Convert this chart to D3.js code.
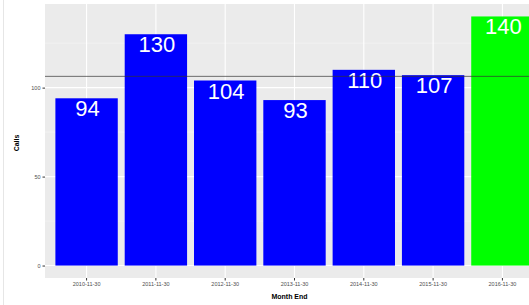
<!DOCTYPE html>
<html>
<head>
<meta charset="utf-8">
<script src="https://cdn.jsdelivr.net/npm/d3@7"></script>
<style>
  body { margin: 0; background: #fff; overflow: hidden; }
  svg { display: block; font-family: "Liberation Sans", Arial, sans-serif; }
</style>
</head>
<body>
<div class="chart"></div>
<script>
const width = 529,
      height = 305;

// data
const months = ["2010-11-30", "2011-11-30", "2012-11-30", "2013-11-30",
                "2014-11-30", "2015-11-30", "2016-11-30"];
const counts = [94, 130, 104, 93, 110, 107, 140];
const highlight = [false, false, false, false, false, false, true];
const yTicks = [0, 50, 100];
const yMinor = [25, 75, 125];

// average of the earlier months, drawn as the reference line
const avg = d3.mean(counts.slice(0, 6));

const panel = {left: 45, top: 4, bottom: 278, right: 544};

const svg = d3.select(".chart")
              .append("svg")
              .attr("width", width)
              .attr("height", height);

// faint frame edge on the left
svg.append("line")
   .attr("x1", 3.5).attr("x2", 3.5)
   .attr("y1", 0).attr("y2", height)
   .attr("stroke", "#e6e6e6");

// ggplot discrete scale: 0.6 step expansion, bar width 0.9
const x = d3.scaleBand()
            .domain(months)
            .range([panel.left, panel.right])
            .paddingOuter(0.15)
            .paddingInner(0.1);

// ggplot style: 5% expansion both sides
const ymax = d3.max(counts);
const y = d3.scaleLinear()
            .domain([-ymax * 0.05, ymax * 1.05])
            .range([panel.bottom, panel.top]);

var g = svg.append("g").classed("panel", true);

g.append("rect")
 .attr("x", panel.left).attr("y", panel.top)
 .attr("width", panel.right - panel.left)
 .attr("height", panel.bottom - panel.top)
 .attr("fill", "#ebebeb");

g.selectAll(".minor").data(yMinor).enter().append("line")
 .attr("x1", panel.left).attr("x2", panel.right)
 .attr("y1", d => y(d)).attr("y2", d => y(d))
 .attr("stroke", "#f5f5f5").attr("stroke-width", 0.6);

g.selectAll(".major").data(yTicks).enter().append("line")
 .attr("x1", panel.left).attr("x2", panel.right)
 .attr("y1", d => y(d)).attr("y2", d => y(d))
 .attr("stroke", "#fff").attr("stroke-width", 1.1);

g.selectAll(".vgrid").data(months).enter().append("line")
 .attr("x1", d => x(d) + x.bandwidth() / 2).attr("x2", d => x(d) + x.bandwidth() / 2)
 .attr("y1", panel.top).attr("y2", panel.bottom)
 .attr("stroke", "#fff").attr("stroke-width", 1.1);

g.selectAll(".bar").data(counts).enter().append("rect")
 .attr("x", (d, i) => x(months[i]))
 .attr("y", d => y(d))
 .attr("width", x.bandwidth())
 .attr("height", d => y(0) - y(d))
 .attr("fill", (d, i) => highlight[i] ? "#00ff00" : "#0000ff");

g.selectAll(".lbl").data(counts).enter().append("text")
 .attr("x", (d, i) => x(months[i]) + x.bandwidth() / 2 + 1)
 .attr("y", d => y(d) + 18)
 .attr("text-anchor", "middle")
 .attr("fill", "#fff")
 .attr("font-size", 22)
 .text(d => d);

g.append("line")
 .attr("x1", panel.left).attr("x2", panel.right)
 .attr("y1", y(avg)).attr("y2", y(avg))
 .attr("stroke", "#333").attr("stroke-opacity", 0.7).attr("stroke-width", 1);

// axes
const yAxis = svg.append("g")
                 .attr("transform", "translate(" + panel.left + ",0)")
                 .call(d3.axisLeft(y).tickValues(yTicks).tickSize(2.5).tickPadding(2));
const xAxis = svg.append("g")
                 .attr("transform", "translate(0," + panel.bottom + ")")
                 .call(d3.axisBottom(x).tickSize(2.5).tickPadding(2));

[yAxis, xAxis].forEach(function(a){
    a.select(".domain").remove();
    a.selectAll(".tick line").attr("stroke", "#333");
    a.selectAll(".tick text").attr("fill", "#4d4d4d").attr("font-size", 5.5);
});

svg.append("text")
   .attr("x", (panel.left + panel.right) / 2 - 5)
   .attr("y", 299)
   .attr("text-anchor", "middle")
   .attr("font-size", 7)
   .attr("font-weight", "bold")
   .text("Month End");

svg.append("text")
   .attr("transform", "translate(19," + ((panel.top + panel.bottom) / 2 + 2) + ") rotate(-90)")
   .attr("text-anchor", "middle")
   .attr("font-size", 7)
   .attr("font-weight", "bold")
   .text("Calls");
</script>
</body>
</html>
